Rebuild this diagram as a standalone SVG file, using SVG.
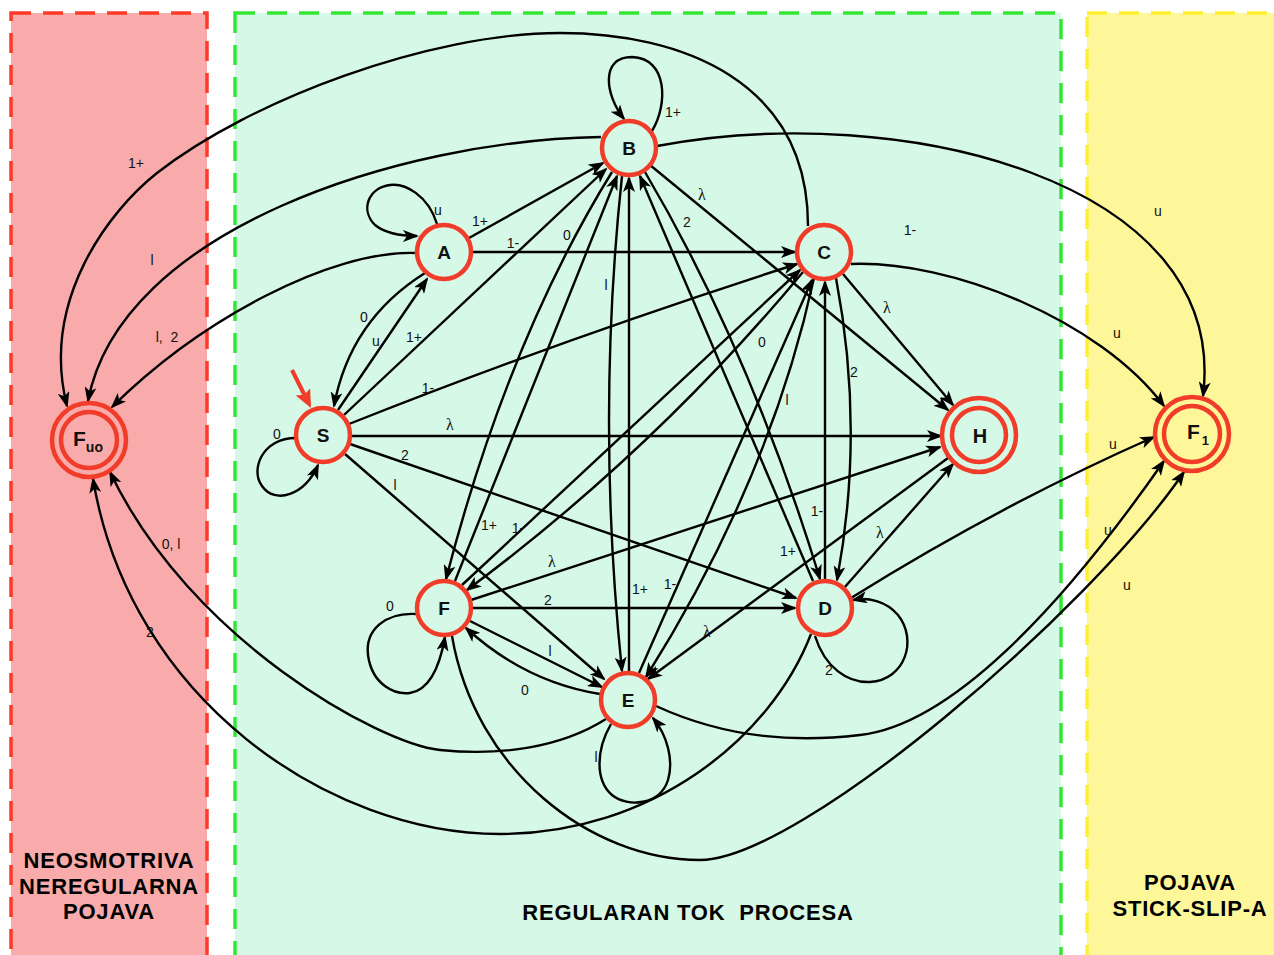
<svg xmlns="http://www.w3.org/2000/svg" width="1274" height="955" viewBox="0 0 1274 955">
  <defs>
    <marker id="ah" viewBox="0 0 16 12" refX="14" refY="6" markerWidth="16" markerHeight="12" markerUnits="userSpaceOnUse" orient="auto">
      <path d="M0,0 L16,6 L0,12 L4,6 z" fill="#000"/>
    </marker>
    <marker id="ah-red" viewBox="0 0 18 16" refX="9" refY="8" markerWidth="18" markerHeight="16" markerUnits="userSpaceOnUse" orient="auto">
      <path d="M0,0 L18,8 L0,16 L3,8 z" fill="#f03c28"/>
    </marker>
  </defs>
  <style>
    .zone { stroke-width: 3.5; stroke-dasharray: 20 12; }
    .edge { fill: none; stroke: #000; stroke-width: 2.4; marker-end: url(#ah); }
    .node { stroke: #f03c28; stroke-width: 4.5; }
    .g-fill { fill: #d6f8e6; }
    .r-fill { fill: #f9abab; }
    .y-fill { fill: #fef79a; }
    .nlbl { font-family: "Liberation Sans", Arial, sans-serif; font-weight: bold; font-size: 19px; text-anchor: middle; fill: #111; }
    .lbl { font-family: "Liberation Sans", Arial, sans-serif; font-size: 14px; text-anchor: middle; fill: #111; }
    .lam { font-family: "Liberation Serif", "Times New Roman", serif; font-size: 16px; text-anchor: middle; fill: #111; }
    .title { font-family: "Liberation Sans", Arial, sans-serif; font-weight: bold; font-size: 22px; text-anchor: middle; fill: #000; letter-spacing: 0.8px; }
  </style>

  <rect width="1274" height="955" fill="#ffffff"/>

  <!-- zones -->
  <g id="zones">
    <rect class="zone r-fill" x="11" y="13" width="196" height="960" stroke="#ff3a2a"/>
    <rect class="zone g-fill" x="235" y="13" width="826" height="960" stroke="#33e633"/>
    <rect class="zone y-fill" x="1087" y="13" width="220" height="960" stroke="#fdf032"/>
    <text class="title" x="109" y="868">NEOSMOTRIVA</text>
    <text class="title" x="109" y="894">NEREGULARNA</text>
    <text class="title" x="109" y="919">POJAVA</text>
    <text class="title" x="688" y="920" xml:space="preserve">REGULARAN TOK  PROCESA</text>
    <text class="title" x="1190" y="890">POJAVA</text>
    <text class="title" x="1190" y="916">STICK-SLIP-A</text>
  </g>

  <!-- transitions -->
  <g id="connectors">
    <path class="edge" d="M 437,224 C 428,195 405,183 390,185 C 368,188 360,210 375,225 C 385,233 400,236 417,236"/>
    <path class="edge" d="M 469,238 L 603,163"/>
    <path class="edge" d="M 473,252 L 795,252"/>
    <path class="edge" d="M 425,273 Q 350,320 334,406"/>
    <path class="edge" d="M 338,410 L 427,279"/>
    <path class="edge" d="M 416,253 C 330,250 200,320 112,407"/>
    <path class="edge" d="M 296,438 C 262,438 250,470 262,486 C 275,505 305,495 318,465"/>
    <path class="edge" d="M 344,415 L 606,169"/>
    <path class="edge" d="M 349,424 Q 560,340 797,264"/>
    <path class="edge" d="M 351,436 L 941,436"/>
    <path class="edge" d="M 350,444 L 796,598"/>
    <path class="edge" d="M 345,454 L 604,679"/>
    <path class="edge" d="M 652,131 C 668,105 668,58 632,57 C 600,57 605,95 624,119"/>
    <path class="edge" d="M 657,146 C 900,100 1230,180 1203,396"/>
    <path class="edge" d="M 601,137 C 400,140 120,230 88,401"/>
    <path class="edge" d="M 808,226 C 808,80 680,33 560,33 C 430,33 250,100 157,173 C 110,210 40,300 67,406"/>
    <path class="edge" d="M 851,264 C 950,260 1100,320 1164,406"/>
    <path class="edge" d="M 843,274 L 953,405"/>
    <path class="edge" d="M 650,165 L 948,410"/>
    <path class="edge" d="M 645,172 Q 750,350 820,579"/>
    <path class="edge" d="M 813,581 L 640,176"/>
    <path class="edge" d="M 836,278 Q 865,430 837,580"/>
    <path class="edge" d="M 825,580 L 825,282"/>
    <path class="edge" d="M 814,278 Q 770,480 646,677"/>
    <path class="edge" d="M 639,673 L 812,280"/>
    <path class="edge" d="M 803,272 Q 654,451 467,590"/>
    <path class="edge" d="M 462,585 L 800,270"/>
    <path class="edge" d="M 622,176 Q 596,420 622,671"/>
    <path class="edge" d="M 629,671 L 629,178"/>
    <path class="edge" d="M 612,172 Q 508,340 446,579"/>
    <path class="edge" d="M 455,581 L 617,176"/>
    <path class="edge" d="M 471,600 L 940,447"/>
    <path class="edge" d="M 473,608 L 795,608"/>
    <path class="edge" d="M 417,614 C 385,612 365,630 368,655 C 372,685 395,695 410,693 C 430,690 440,665 445,637"/>
    <path class="edge" d="M 470,621 L 602,687"/>
    <path class="edge" d="M 600,694 Q 525,682 466,628"/>
    <path class="edge" d="M 452,636 C 475,770 590,860 700,860 C 800,860 1090,610 1184,472"/>
    <path class="edge" d="M 656,706 C 730,740 800,742 860,735 C 950,725 1060,610 1164,461"/>
    <path class="edge" d="M 851,598 Q 1000,505 1154,437"/>
    <path class="edge" d="M 844,588 L 953,464"/>
    <path class="edge" d="M 815,636 C 825,668 848,683 870,682 C 905,680 918,640 898,615 C 886,601 868,597 853,600"/>
    <path class="edge" d="M 811,634 C 770,740 650,834 500,834 C 330,834 130,700 93,479"/>
    <path class="edge" d="M 611,724 C 596,750 595,780 612,795 C 628,808 660,805 668,780 C 674,760 667,735 653,718"/>
    <path class="edge" d="M 606,719 C 560,748 500,756 440,750 C 380,744 190,640 110,472"/>
    <path class="edge" d="M 948,458 L 648,679"/>
    <!-- initial-state pointer -->
    <path d="M 292,370 L 307,400" fill="none" stroke="#f03c28" stroke-width="4" marker-end="url(#ah-red)"/>
  </g>

  <!-- transition labels -->
  <g id="edge-labels">
    <text class="lbl" x="136" y="168">1+</text>
    <text class="lbl" x="152" y="265">l</text>
    <text class="lbl" x="167" y="342" xml:space="preserve">l,  2</text>
    <text class="lbl" x="171" y="549">0, l</text>
    <text class="lbl" x="150" y="637">2</text>
    <text class="lbl" x="438" y="215">u</text>
    <text class="lbl" x="480" y="226">1+</text>
    <text class="lbl" x="513" y="248">1-</text>
    <text class="lbl" x="567" y="240">0</text>
    <text class="lbl" x="673" y="117">1+</text>
    <text class="lam" x="702" y="200">λ</text>
    <text class="lbl" x="687" y="227">2</text>
    <text class="lbl" x="910" y="235">1-</text>
    <text class="lbl" x="1158" y="216">u</text>
    <text class="lbl" x="364" y="322">0</text>
    <text class="lbl" x="376" y="346">u</text>
    <text class="lbl" x="414" y="342">1+</text>
    <text class="lbl" x="428" y="393">1-</text>
    <text class="lbl" x="606" y="290">l</text>
    <text class="lbl" x="762" y="347">0</text>
    <text class="lam" x="887" y="313">λ</text>
    <text class="lbl" x="1117" y="338">u</text>
    <text class="lbl" x="854" y="377">2</text>
    <text class="lbl" x="787" y="405">l</text>
    <text class="lbl" x="277" y="439">0</text>
    <text class="lam" x="450" y="430">λ</text>
    <text class="lbl" x="405" y="460">2</text>
    <text class="lbl" x="395" y="490">l</text>
    <text class="lbl" x="1113" y="449">u</text>
    <text class="lbl" x="489" y="530">1+</text>
    <text class="lbl" x="518" y="533">1-</text>
    <text class="lam" x="552" y="567">λ</text>
    <text class="lbl" x="817" y="516">1-</text>
    <text class="lbl" x="788" y="556">1+</text>
    <text class="lam" x="880" y="538">λ</text>
    <text class="lbl" x="1108" y="535">u</text>
    <text class="lbl" x="1127" y="590">u</text>
    <text class="lbl" x="390" y="611">0</text>
    <text class="lbl" x="548" y="605">2</text>
    <text class="lbl" x="640" y="594">1+</text>
    <text class="lbl" x="670" y="589">1-</text>
    <text class="lam" x="707" y="637">λ</text>
    <text class="lbl" x="829" y="675">2</text>
    <text class="lbl" x="550" y="656">l</text>
    <text class="lbl" x="525" y="695">0</text>
    <text class="lbl" x="596" y="762">l</text>
  </g>

  <!-- states -->
  <g id="node-Fuo">
    <circle class="node r-fill" cx="89" cy="440" r="37"/>
    <circle class="node r-fill" cx="89" cy="440" r="28"/>
    <text class="nlbl" x="73" y="446" style="text-anchor:start;font-size:21px">F<tspan font-size="14" dy="6">uo</tspan></text>
  </g>
  <g id="node-S">
    <circle class="node g-fill" cx="323" cy="435" r="27"/>
    <text class="nlbl" x="323" y="442">S</text>
  </g>
  <g id="node-A">
    <circle class="node g-fill" cx="444" cy="252" r="27"/>
    <text class="nlbl" x="444" y="259">A</text>
  </g>
  <g id="node-B">
    <circle class="node g-fill" cx="629" cy="148" r="27"/>
    <text class="nlbl" x="629" y="155">B</text>
  </g>
  <g id="node-C">
    <circle class="node g-fill" cx="824" cy="252" r="27"/>
    <text class="nlbl" x="824" y="259">C</text>
  </g>
  <g id="node-H">
    <circle class="node g-fill" cx="979" cy="435" r="37"/>
    <circle class="node g-fill" cx="979" cy="435" r="27"/>
    <text class="nlbl" x="980" y="443" style="font-size:20px">H</text>
  </g>
  <g id="node-F1">
    <circle class="node y-fill" cx="1192" cy="434" r="37"/>
    <circle class="node y-fill" cx="1192" cy="434" r="28"/>
    <text class="nlbl" x="1187" y="439" style="text-anchor:start;font-size:21px">F<tspan font-size="13" dx="2" dy="6">1</tspan></text>
  </g>
  <g id="node-D">
    <circle class="node g-fill" cx="825" cy="608" r="27"/>
    <text class="nlbl" x="825" y="615">D</text>
  </g>
  <g id="node-E">
    <circle class="node g-fill" cx="628" cy="700" r="27"/>
    <text class="nlbl" x="628" y="707">E</text>
  </g>
  <g id="node-F">
    <circle class="node g-fill" cx="444" cy="608" r="27"/>
    <text class="nlbl" x="444" y="615">F</text>
  </g>
</svg>
